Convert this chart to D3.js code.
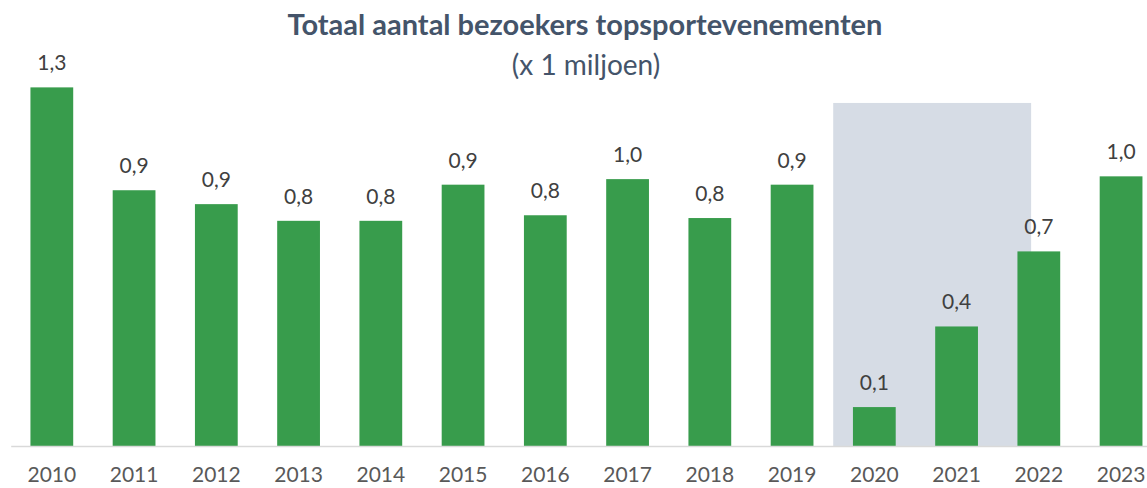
<!DOCTYPE html>
<html>
<head>
<meta charset="utf-8">
<script src="https://cdn.jsdelivr.net/npm/d3@7"></script>
<style>
  body { margin: 0; background: #fff; }
  svg { display: block; }
  text { font-family: Lato, "Open Sans", sans-serif; }
</style>
</head>
<body>
<div class="chart"></div>
<script>
// Data (x 1 miljoen)
const years = ['2010','2011','2012','2013','2014','2015','2016','2017','2018','2019','2020','2021','2022','2023'];
const visitors = [1.29, 0.92, 0.87, 0.81, 0.81, 0.94, 0.83, 0.96, 0.82, 0.94, 0.14, 0.43, 0.70, 0.97];
// grijs vlak achter de corona-jaren
const shadeYears = ['2020', '2022'];
const shadeTop = 1.234;

const titleText = 'Totaal aantal bezoekers topsportevenementen';
const subtitleText = '(x 1 miljoen)';

const nl = d3.formatLocale({decimal: ',', thousands: '.', grouping: [3], currency: ['€', '']});
const fmt = nl.format('.1f');

const width = 1147, height = 488;
const baseline = 446;

const svg = d3.select('.chart').append('svg')
  .attr('width', width).attr('height', height);

const x = d3.scaleBand().domain(years).range([10.7, 1162.2]).paddingInner(0.48).paddingOuter(0.24);
const y = d3.scaleLinear().domain([0, 1.4]).range([baseline, baseline - 1.4 * 278]);

// shade
const gap = x.step() - x.bandwidth();
svg.append('rect')
  .attr('x', x(shadeYears[0]) - gap / 2)
  .attr('y', y(shadeTop))
  .attr('width', (x(shadeYears[1]) + x.bandwidth() * 0.32) - (x(shadeYears[0]) - gap / 2))
  .attr('height', baseline - y(shadeTop))
  .style('fill', '#d6dce5');

// bars
svg.selectAll('.bar')
  .data(years)
  .enter()
  .append('rect')
  .attr('class', 'bar')
  .attr('x', d => x(d))
  .attr('y', (d, i) => y(visitors[i]))
  .attr('width', x.bandwidth())
  .attr('height', (d, i) => baseline - y(visitors[i]))
  .style('fill', '#389c4c');

// value labels
svg.selectAll('.val')
  .data(years)
  .enter()
  .append('text')
  .attr('class', 'val')
  .attr('x', d => x(d) + x.bandwidth() / 2)
  .attr('y', (d, i) => y(visitors[i]) - 17)
  .attr('text-anchor', 'middle')
  .style('font-size', '21px')
  .style('fill', '#404040')
  .text((d, i) => fmt(visitors[i]));

// x axis
const xAxis = d3.axisBottom(x).tickSize(0).tickPadding(36);
const xAxisDraw = svg.append('g')
  .attr('transform', `translate(0,${baseline})`)
  .call(xAxis);
xAxisDraw.select('.domain').attr('stroke', '#d9d9d9').attr('stroke-width', 1.5);
xAxisDraw.selectAll('text')
  .attr('dy', 0)
  .style('font-family', 'Lato, "Open Sans", sans-serif')
  .style('font-size', '21px')
  .style('fill', '#595959');

// titles
svg.append('text')
  .attr('x', 585).attr('y', 35)
  .attr('text-anchor', 'middle')
  .style('font-size', '29px')
  .style('font-weight', 'bold')
  .style('fill', '#44546a')
  .text(titleText);
svg.append('text')
  .attr('x', 586).attr('y', 75)
  .attr('text-anchor', 'middle')
  .style('font-size', '28px')
  .style('fill', '#44546a')
  .text(subtitleText);
</script>
</body>
</html>
